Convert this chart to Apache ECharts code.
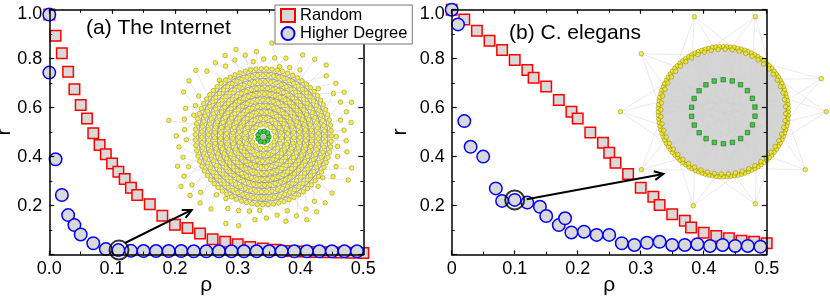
<!DOCTYPE html>
<html><head><meta charset="utf-8">
<script src="https://cdn.jsdelivr.net/npm/echarts@6/dist/echarts.min.js"></script>
<style>html,body{margin:0;padding:0;background:#fff}#c{width:830px;height:296px}</style>
</head><body><div id="c"></div>
<script>
// ---------- data ----------
const titles = ['(a) The Internet', '(b) C. elegans'];
const seriesNames = ['Random', 'Higher Degree'];
const xAxisName = 'ρ';
const yAxisName = 'r';

// (a) The Internet
const inetRandomRho = [0,0.01,0.02,0.03,0.04,0.05,0.06,0.07,0.08,0.09,0.10,0.11,0.12,0.13,0.14,0.16,0.18,0.20,0.22,0.24,0.26,0.28,0.30,0.32,0.34,0.36,0.38,0.40,0.42,0.44,0.46,0.48,0.50];
const inetRandomR   = [0.98,0.894,0.822,0.747,0.675,0.611,0.556,0.495,0.447,0.410,0.372,0.338,0.308,0.273,0.243,0.205,0.158,0.122,0.108,0.086,0.062,0.052,0.042,0.031,0.025,0.019,0.014,0.012,0.010,0.009,0.008,0.007,0.006];
const inetDegreeRho = [0,0,0.01,0.02,0.03,0.04,0.05,0.07,0.09,0.11,0.13,0.15,0.17,0.19,0.21,0.23,0.25,0.27,0.29,0.31,0.33,0.35,0.37,0.39,0.41,0.43,0.45,0.47,0.49];
const inetDegreeR   = [0.98,0.743,0.389,0.243,0.161,0.120,0.082,0.046,0.022,0.018,0.015,0.014,0.014,0.014,0.014,0.013,0.013,0.013,0.013,0.013,0.013,0.013,0.013,0.013,0.013,0.013,0.013,0.013,0.013];

// (b) C. elegans
const celeRandomRho = [0,0.02,0.04,0.06,0.08,0.10,0.12,0.13,0.15,0.17,0.19,0.20,0.22,0.24,0.25,0.26,0.28,0.30,0.32,0.33,0.35,0.37,0.38,0.40,0.42,0.44,0.46,0.48,0.50];
const celeRandomR   = [1.0,0.96,0.914,0.873,0.835,0.795,0.754,0.722,0.686,0.631,0.583,0.556,0.498,0.457,0.416,0.375,0.329,0.273,0.236,0.202,0.164,0.138,0.110,0.089,0.076,0.066,0.056,0.052,0.046];
const celeDegreeRho = [0,0.01,0.02,0.03,0.05,0.07,0.08,0.10,0.12,0.14,0.15,0.17,0.18,0.19,0.21,0.23,0.25,0.27,0.29,0.31,0.33,0.35,0.37,0.39,0.41,0.43,0.45,0.47,0.49];
const celeDegreeR   = [1.0,0.94,0.545,0.440,0.400,0.270,0.219,0.223,0.212,0.195,0.157,0.120,0.148,0.090,0.093,0.080,0.080,0.046,0.039,0.048,0.052,0.039,0.039,0.042,0.035,0.039,0.035,0.035,0.032];

// highlighted points and annotation arrows [rho1, r1, rho2, r2]
const highlightRho = [0.111, 0.10];
const highlightR   = [0.018, 0.223];
const arrowInet = [0.1205, 0.047, 0.2268, 0.182];
const arrowCele = [0.119, 0.2255, 0.336, 0.329];

// ---------- helpers ----------
const FONT = 'Liberation Sans, Arial, Helvetica, sans-serif';
const pairs = (xs, ys) => xs.map((x, i) => [x, ys[i]]);

function mainX(gi, pos, fmt) {
  const show = !!fmt;
  return {
    type: 'value', gridIndex: gi, position: pos, min: 0, max: 0.5, interval: 0.1, z: 5,
    axisLine: { show: true, onZero: false, lineStyle: { color: '#000', width: 1.5 } },
    axisTick: { show: true, inside: true, length: 4, lineStyle: { color: '#000', width: 1.2 } },
    minorTick: { show: true, splitNumber: 2, length: 3, lineStyle: { color: '#000', width: 1 } },
    splitLine: { show: false }, minorSplitLine: { show: false },
    axisLabel: { show: show, formatter: fmt, color: '#000', fontSize: 18, fontFamily: FONT, margin: 6 },
    name: show ? xAxisName : '', nameLocation: 'middle', nameGap: 20, nameMoveOverlap: false,
    nameTextStyle: { color: '#000', fontSize: 21, fontFamily: FONT }
  };
}
function yFmt(v) { if (v === 0) return ''; if (v === 1) return '{t|1.0}'; return v.toFixed(1); }
function mainY(gi, pos, show, gap) {
  return {
    type: 'value', gridIndex: gi, position: pos, min: 0, max: 1, interval: 0.2, z: 5,
    axisLine: { show: true, onZero: false, lineStyle: { color: '#000', width: 1.5 } },
    axisTick: { show: true, inside: true, length: 5, lineStyle: { color: '#000', width: 1.2 } },
    minorTick: { show: true, splitNumber: 2, length: 3, lineStyle: { color: '#000', width: 1 } },
    splitLine: { show: false }, minorSplitLine: { show: false },
    axisLabel: { show: show, formatter: yFmt, color: '#000', fontSize: 18, fontFamily: FONT, margin: 7,
      rich: { t: { padding: [8, 0, 0, 0], fontSize: 18, fontFamily: FONT, color: '#000' } } },
    name: show ? yAxisName : '', nameLocation: 'middle', nameGap: gap, nameMoveOverlap: false,
    nameTextStyle: { color: '#000', fontSize: 21, fontFamily: FONT }
  };
}
function hiddenAxis(gi, lim, inv) {
  return { type: 'value', gridIndex: gi, min: -lim, max: lim, show: false, inverse: !!inv,
    splitLine: { show: false }, axisLine: { show: false }, axisTick: { show: false }, axisLabel: { show: false } };
}
function dataSeries(gi, xs, ys, kind) {
  const isRect = kind === 0;
  return {
    name: seriesNames[kind], type: 'scatter', xAxisIndex: gi * 2, yAxisIndex: gi * 2,
    data: pairs(xs, ys), symbol: isRect ? 'rect' : 'circle', symbolSize: isRect ? 10.5 : 12.5,
    itemStyle: { color: '#d9d9d9', borderColor: isRect ? '#ff0000' : '#0000ff', borderWidth: 1.5, opacity: 1 },
    z: isRect ? 3 : 4, silent: true, clip: false
  };
}
function arrowSeries(gi, arr) {
  return {
    type: 'custom', xAxisIndex: gi * 2, yAxisIndex: gi * 2, z: 6, silent: true,
    dimensions: ['x1', 'y1', 'x2', 'y2'], encode: { x: [0, 2], y: [1, 3] },
    data: [arr],
    renderItem: function (params, api) {
      const p1 = api.coord([api.value(0), api.value(1)]);
      const p2 = api.coord([api.value(2), api.value(3)]);
      const ang = Math.atan2(p2[1] - p1[1], p2[0] - p1[0]);
      const L = 10, h = 0.45;
      const w1 = [p2[0] - L * Math.cos(ang - h), p2[1] - L * Math.sin(ang - h)];
      const w2 = [p2[0] - L * Math.cos(ang + h), p2[1] - L * Math.sin(ang + h)];
      return { type: 'group', children: [
        { type: 'line', shape: { x1: p1[0], y1: p1[1], x2: p2[0], y2: p2[1] }, style: { stroke: '#000', lineWidth: 2 } },
        { type: 'polyline', shape: { points: [w1, p2, w2] }, style: { stroke: '#000', lineWidth: 2, fill: null } }
      ] };
    }
  };
}

// ---------- network insets (decorative pictures) ----------
function ringPts(R, n, phase) {
  const a = [];
  for (let k = 0; k < n; k++) { const t = phase + 2 * Math.PI * k / n; a.push([R * Math.cos(t), R * Math.sin(t)]); }
  return a;
}
const yellow = { color: '#f4e81a', borderColor: '#6a6600', borderWidth: 0.5 };
const green = { color: '#22c322', borderColor: '#064d06', borderWidth: 0.6 };

function internetInset(ax) {
  const radii = [12, 18.3, 24.5, 30.5, 36.7, 42.7, 48.5, 55, 61.5, 68];
  const ringLines = radii.slice(0, 9).map(R => ({ coords: ringPts(R + 3.1, 90, 0).concat([[R + 3.1, 0]]) }));
  const dots = [];
  radii.forEach((R, j) => {
    const n = Math.round(2 * Math.PI * R / 5.4);
    dots.push(...ringPts(R, n, j * 0.37));
  });
  const edges = [];
  for (let i = 0; i < 85; i++) {
    const t = i * 2.39996;
    const rr = 73 + ((i * 37) % 25);
    const p = [rr * Math.cos(t), rr * Math.sin(t) * 0.97];
    dots.push(p);
    const t2 = t + ((i % 3) - 1) * 0.18;
    edges.push({ coords: [p, [66 * Math.cos(t2), 66 * Math.sin(t2)]] });
  }
  return [
    { type: 'lines', coordinateSystem: 'cartesian2d', xAxisIndex: ax, yAxisIndex: ax, polyline: true, silent: true, z: 1,
      data: edges, lineStyle: { color: '#dadada', width: 0.6, opacity: 1 } },
    { type: 'lines', coordinateSystem: 'cartesian2d', xAxisIndex: ax, yAxisIndex: ax, polyline: true, silent: true, z: 1,
      data: ringLines, lineStyle: { color: '#a8a8a8', width: 1.3, opacity: 1 } },
    { type: 'scatter', xAxisIndex: ax, yAxisIndex: ax, silent: true, z: 2, symbolSize: 4.6, data: dots, itemStyle: yellow },
    { type: 'scatter', xAxisIndex: ax, yAxisIndex: ax, silent: true, z: 2, symbolSize: 5, data: ringPts(5.5, 9, 0), itemStyle: green },
    { type: 'scatter', xAxisIndex: ax, yAxisIndex: ax, silent: true, z: 2, symbolSize: 5, data: [[0, 0]], itemStyle: { color: '#a8a8a8' } }
  ];
}

function celeInset(ax) {
  const outl = [[-29, -95], [32, -95], [-82, -58], [98, -33], [-103, 0], [103, 0], [-82, 58], [82, 58], [-30, 94], [32, 92]];
  const R = 65;
  const edges = [];
  outl.forEach(p => {
    const t0 = Math.atan2(p[1], p[0]);
    [-0.5, -0.2, 0.15, 0.45].forEach(d => edges.push({ coords: [p, [R * Math.cos(t0 + d), R * Math.sin(t0 + d)]] }));
  });
  const web = [];
  for (let i = 0; i < 40; i++) {
    const a = i * 2.39996, b = a + 2.2 + (i % 5) * 0.3;
    web.push({ coords: [[R * Math.cos(a), R * Math.sin(a)], [R * Math.cos(b), R * Math.sin(b)]] });
  }
  return [
    { type: 'lines', coordinateSystem: 'cartesian2d', xAxisIndex: ax, yAxisIndex: ax, polyline: true, silent: true, z: 1,
      data: edges, lineStyle: { color: '#dcdcdc', width: 0.6, opacity: 1 } },
    { type: 'scatter', xAxisIndex: ax, yAxisIndex: ax, silent: true, z: 1, symbolSize: 2 * R + 2, data: [[0, 0]],
      itemStyle: { color: '#cbcbcb' } },
    { type: 'lines', coordinateSystem: 'cartesian2d', xAxisIndex: ax, yAxisIndex: ax, polyline: true, silent: true, z: 1,
      data: web, lineStyle: { color: '#dcdcdc', width: 0.5, opacity: 0.8 } },
    { type: 'scatter', xAxisIndex: ax, yAxisIndex: ax, silent: true, z: 2, symbolSize: 4.6,
      data: ringPts(R, 112, 0).concat(ringPts(R - 2.5, 56, 0.03), outl), itemStyle: yellow },
    { type: 'scatter', xAxisIndex: ax, yAxisIndex: ax, silent: true, z: 2, symbol: 'rect', symbolSize: 4.5,
      data: ringPts(32, 22, 0.14), itemStyle: green }
  ];
}

// ---------- chart ----------
const chart = echarts.init(document.getElementById('c'), null, { renderer: 'canvas' });
const xFmtA = v => v.toFixed(1);
const xFmtB = v => (v === 0 ? '0' : v.toFixed(1));
const G = { containLabel: false, outerBoundsMode: 'none' };

chart.setOption({
  animation: false,
  backgroundColor: '#fff',
  title: [
    { text: titles[0], left: 86, top: 18, padding: 0, textStyle: { fontSize: 21, fontWeight: 'normal', fontFamily: FONT, color: '#000' } },
    { text: titles[1], left: 509, top: 23, padding: 0, textStyle: { fontSize: 21, fontWeight: 'normal', fontFamily: FONT, color: '#000' } }
  ],
  legend: {
    data: seriesNames, orient: 'vertical', left: 275, top: 5, padding: [2, 5, 2, 5], itemGap: 1,
    itemWidth: 14, itemHeight: 13, backgroundColor: '#fff', borderColor: '#777', borderWidth: 1,
    textStyle: { fontSize: 16.5, color: '#000', fontFamily: FONT, lineHeight: 16 }, selectedMode: false, z: 10
  },
  grid: [
    Object.assign({ left: 49.3, top: 9.7, width: 314, height: 244.8 }, G),
    Object.assign({ left: 451.7, top: 9.7, width: 315, height: 244.8 }, G),
    Object.assign({ left: 163.3, top: 36.7, width: 200, height: 200 }, G),
    Object.assign({ left: 613.3, top: 1.7, width: 220, height: 220 }, G)
  ],
  xAxis: [
    mainX(0, 'bottom', xFmtA), mainX(0, 'top', null),
    mainX(1, 'bottom', xFmtB), mainX(1, 'top', null),
    hiddenAxis(2, 100), hiddenAxis(3, 110)
  ],
  yAxis: [
    mainY(0, 'left', true, 35), mainY(0, 'right', false, 0),
    mainY(1, 'left', true, 41), mainY(1, 'right', false, 0),
    hiddenAxis(2, 100, true), hiddenAxis(3, 110, true)
  ],
  series: [
    dataSeries(0, inetRandomRho, inetRandomR, 0),
    dataSeries(0, inetDegreeRho, inetDegreeR, 1),
    dataSeries(1, celeRandomRho, celeRandomR, 0),
    dataSeries(1, celeDegreeRho, celeDegreeR, 1),
    { type: 'scatter', xAxisIndex: 0, yAxisIndex: 0, data: [[highlightRho[0], highlightR[0]]], symbol: 'circle', symbolSize: 19,
      itemStyle: { color: 'rgba(0,0,0,0)', borderColor: '#000', borderWidth: 2 }, z: 6, silent: true, clip: false },
    { type: 'scatter', xAxisIndex: 2, yAxisIndex: 2, data: [[highlightRho[1], highlightR[1]]], symbol: 'circle', symbolSize: 19,
      itemStyle: { color: 'rgba(0,0,0,0)', borderColor: '#000', borderWidth: 2 }, z: 6, silent: true, clip: false },
    arrowSeries(0, arrowInet),
    arrowSeries(1, arrowCele)
  ].concat(internetInset(4), celeInset(5))
});
</script></body></html>
